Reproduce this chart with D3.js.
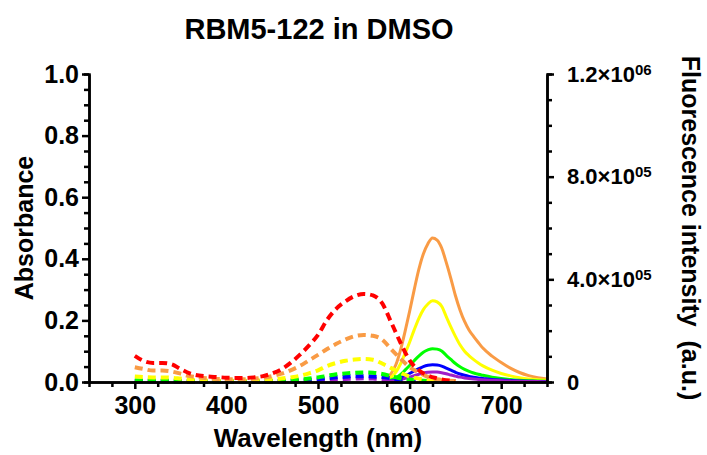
<!DOCTYPE html>
<html><head><meta charset="utf-8">
<script src="https://cdn.jsdelivr.net/npm/d3@7"></script>
<style>
body{margin:0;background:#fff;}
text{font-family:"Liberation Sans",Arial,Helvetica,sans-serif;font-weight:bold;fill:#000;}
</style></head>
<body><svg id="c" width="707" height="455"></svg>
<script>
// ---- data ----
const title = "RBM5-122 in DMSO";
const xLabel = "Wavelength (nm)";
const yLeftLabel = "Absorbance";
const yRightLabel = "Fluorescence intensity  (a.u.)";
const xTicks = [300,400,500,600,700];
const yLeftTicks = [0,0.2,0.4,0.6,0.8,1.0];
const yRightTicks = [0,400000,800000,1200000];
const yRightTickLabels = [["0",""],["4.0\u00d710","05"],["8.0\u00d710","05"],["1.2\u00d710","06"]];

const absWl = [300,310,320,330,340,350,360,370,380,390,400,410,420,430,440,450,460,470,480,490,500,510,520,530,540,550,560,570,580,590,600,610,620,630,640,650];
const absRed    = [0.085,0.068,0.062,0.062,0.058,0.042,0.028,0.021,0.018,0.016,0.014,0.013,0.013,0.015,0.019,0.028,0.041,0.062,0.088,0.118,0.153,0.202,0.238,0.262,0.279,0.286,0.281,0.256,0.193,0.128,0.070,0.038,0.021,0.012,0.006,0.003];
const absOrange = [0.048,0.042,0.037,0.037,0.034,0.027,0.019,0.015,0.012,0.010,0.009,0.009,0.009,0.011,0.014,0.019,0.027,0.038,0.052,0.070,0.088,0.107,0.124,0.138,0.149,0.153,0.150,0.138,0.106,0.076,0.048,0.031,0.017,0.009,0.005,0.003];
const absYellow = [0.018,0.016,0.015,0.015,0.014,0.011,0.008,0.006,0.005,0.004,0.004,0.004,0.004,0.005,0.006,0.008,0.011,0.015,0.020,0.028,0.038,0.052,0.062,0.069,0.073,0.075,0.072,0.060,0.045,0.030,0.018,0.011,0.006,0.003,0.002,0.001];
const absGreen  = [0.006,0.005,0.005,0.005,0.005,0.004,0.003,0.002,0.002,0.002,0.002,0.002,0.002,0.002,0.002,0.003,0.004,0.006,0.008,0.011,0.015,0.020,0.025,0.028,0.030,0.031,0.030,0.026,0.019,0.012,0.008,0.005,0.003,0.002,0.001,0.001];
const absBlue   = [0.003,0.003,0.003,0.003,0.003,0.002,0.002,0.001,0.001,0.001,0.001,0.001,0.001,0.001,0.001,0.002,0.003,0.004,0.005,0.007,0.009,0.012,0.015,0.017,0.019,0.019,0.018,0.016,0.012,0.008,0.005,0.003,0.002,0.001,0.001,0.000];
const absPurple = [0.002,0.002,0.002,0.002,0.002,0.001,0.001,0.001,0.001,0.001,0.001,0.001,0.001,0.001,0.001,0.001,0.002,0.002,0.003,0.004,0.005,0.007,0.009,0.010,0.011,0.012,0.011,0.010,0.008,0.005,0.003,0.002,0.001,0.001,0.000,0.000];

const emWl = [570,575,580,585,590,595,600,605,610,615,620,625,630,635,640,645,650,655,660,665,670,675,680,690,700,710,720,730,740,750];
// fluorescence in thousands of counts
const emOrange = [2,11,34,67,123,196,275,359,438,499,539,561,553,522,466,404,337,281,236,202,177,154,132,101,76,54,37,25,17,12];
const emYellow = [1,6,19,38,70,111,155,203,247,282,304,317,312,295,255,215,178,145,120,102,87,74,63,46,33,24,17,12,9,7];
const emGreen  = [0.5,3,8,16,29,46,64,83,101,116,125,130,128,121,104,88,72,59,49,41,35,30,26,19,14,10,7,5,3.5,2.5];
const emBlue   = [0.3,1.5,4,8,15,24,33,43,52,60,65,67,66,62,54,46,38,31,26,22,19,16,14,10,7.5,5.5,4,3,2,1.5];
const emPurple = [0.2,1,2.5,5,9,14,19,25,30,35,38,39,38.5,36,32,27,23,19,16,13.5,11.5,10,8.5,6.5,5,3.5,2.5,2,1.5,1];

const colRed="#FF0000", colOrange="#F99B45", colYellow="#FFFF00", colGreen="#00FF00", colBlue="#0000FF", colPurple="#A01EC8";

// ---- layout ----
const svg = d3.select("#c");
const L=89, R=547, T=74, B=382;
const x = d3.scaleLinear().domain([250,750]).range([L,R]);
const yA = d3.scaleLinear().domain([0,1]).range([B,T]);
const yF = d3.scaleLinear().domain([0,1200]).range([B,T]);

// emission (solid)
const emSeries = [[emOrange,colOrange],[emYellow,colYellow],[emGreen,colGreen],[emBlue,colBlue],[emPurple,colPurple]];
const lineF = d3.line().x(d=>x(d[0])).y(d=>yF(d[1])).curve(d3.curveMonotoneX);
emSeries.forEach(([vals,c])=>{
  svg.append("path").datum(emWl.map((w,i)=>[w,vals[i]]))
    .attr("d",lineF).attr("fill","none").attr("stroke",c).attr("stroke-width",3);
});
// absorbance (dashed)
const absSeries = [[absPurple,colPurple],[absBlue,colBlue],[absGreen,colGreen],[absYellow,colYellow],[absOrange,colOrange],[absRed,colRed]];
const lineA = d3.line().x(d=>x(d[0])).y(d=>yA(d[1])).curve(d3.curveMonotoneX);
absSeries.forEach(([vals,c])=>{
  svg.append("path").datum(absWl.map((w,i)=>[w,vals[i]]))
    .attr("d",lineA).attr("fill","none").attr("stroke",c).attr("stroke-width",4)
    .attr("stroke-dasharray","8,5");
});

function styleAxis(g){ g.select(".domain").attr("stroke","#000").attr("stroke-width",2.5);
  g.selectAll(".tick line").attr("stroke","#000").attr("stroke-width",2.5);
  g.selectAll("text").attr("font-family",null).attr("font-size",null); }

// minor ticks
const gxm = svg.append("g").attr("transform",`translate(0,${B})`)
  .call(d3.axisBottom(x).tickValues(d3.range(275,751,50)).tickSize(5).tickFormat(""));
styleAxis(gxm);
const gylm = svg.append("g").attr("transform",`translate(${L},0)`)
  .call(d3.axisLeft(yA).tickValues([0.05,0.1,0.15,0.25,0.3,0.35,0.45,0.5,0.55,0.65,0.7,0.75,0.85,0.9,0.95]).tickSize(5).tickFormat(""));
styleAxis(gylm);
const gyrm = svg.append("g").attr("transform",`translate(${R},0)`)
  .call(d3.axisRight(yF).tickValues([100,200,300,500,600,700,900,1000,1100]).tickSize(5).tickFormat(""));
styleAxis(gyrm);

// major axes
const gx = svg.append("g").attr("transform",`translate(0,${B})`)
  .call(d3.axisBottom(x).tickValues(xTicks).tickSize(7).tickSizeOuter(0).tickPadding(7));
styleAxis(gx);
gx.selectAll("text").style("font-size","25px");

const gyl = svg.append("g").attr("transform",`translate(${L},0)`)
  .call(d3.axisLeft(yA).tickValues(yLeftTicks).tickFormat(d3.format(".1f")).tickSize(7).tickSizeOuter(0).tickPadding(3));
styleAxis(gyl);
gyl.selectAll("text").style("font-size","25px");

const gyr = svg.append("g").attr("transform",`translate(${R},0)`)
  .call(d3.axisRight(yF).tickValues(yRightTicks.map(v=>v/1000)).tickSize(7).tickSizeOuter(0).tickPadding(13).tickFormat(""));
styleAxis(gyr);
gyr.selectAll(".tick").each(function(d,i){
  const t = d3.select(this).select("text").style("font-size","22px");
  const lab = yRightTickLabels[i];
  t.text(null);
  t.append("tspan").text(lab[0]);
  if(lab[1]) t.append("tspan").attr("dy","-0.45em").style("font-size","15px").text(lab[1]);
});

// titles
svg.append("text").attr("x",319).attr("y",39).attr("text-anchor","middle").style("font-size","29px").text(title);
svg.append("text").attr("x",318).attr("y",447).attr("text-anchor","middle").style("font-size","26px").text(xLabel);
svg.append("text").attr("transform","translate(33,228) rotate(-90)").attr("text-anchor","middle").style("font-size","25px").text(yLeftLabel);
svg.append("text").attr("transform","translate(682,228) rotate(90)").attr("text-anchor","middle").style("font-size","25px").attr("xml:space","preserve").style("white-space","pre").text(yRightLabel);
</script></body></html>
